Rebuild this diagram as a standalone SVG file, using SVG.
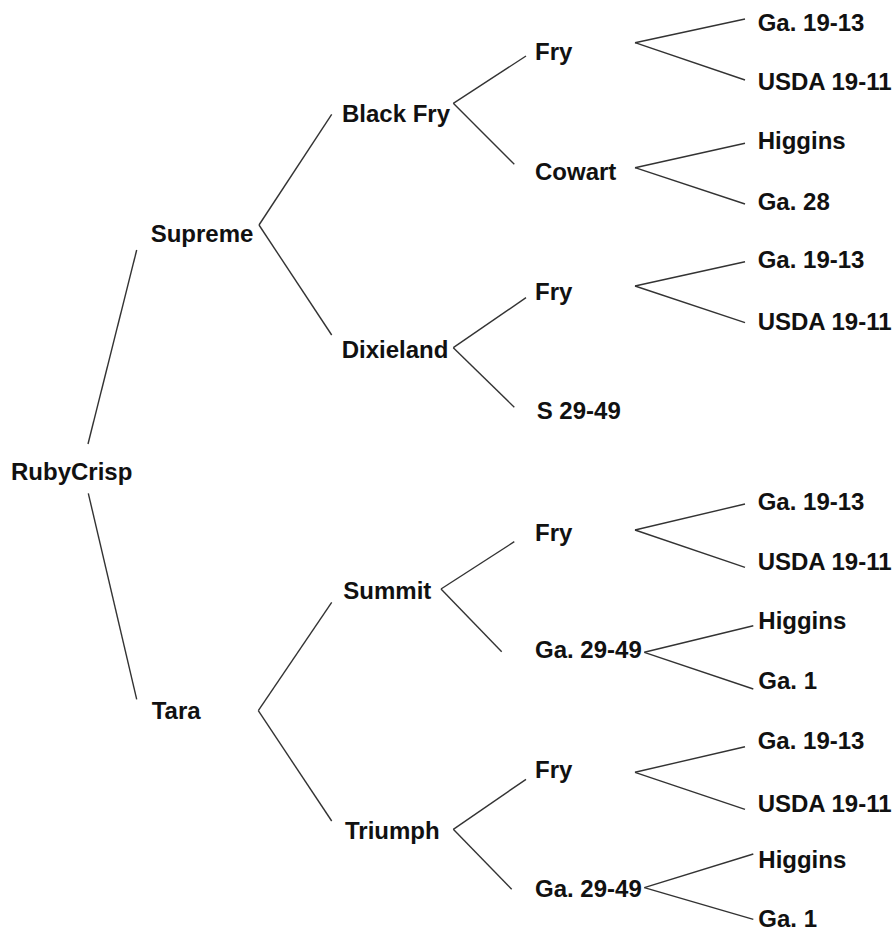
<svg xmlns="http://www.w3.org/2000/svg" width="894" height="930" viewBox="0 0 894 930">
<style>
text{font-family:"Liberation Sans",Arial,sans-serif;font-weight:bold;font-size:24px;fill:#111}
.c line{stroke:#333;stroke-width:1.4;fill:none}
</style>
<rect width="894" height="930" fill="#fff"/>
<g class="c" id="connectors">
<line x1="88" y1="444" x2="136.7" y2="250"/>
<line x1="88.3" y1="493.3" x2="136.7" y2="699.3"/>
<line x1="259" y1="225" x2="331.7" y2="114.3"/>
<line x1="259" y1="225" x2="331.7" y2="335"/>
<line x1="258.3" y1="710.7" x2="331.7" y2="602.3"/>
<line x1="258.3" y1="710.7" x2="331.7" y2="821"/>
<line x1="453.3" y1="103.3" x2="526" y2="56"/>
<line x1="453.3" y1="103.3" x2="514.3" y2="164.3"/>
<line x1="453.3" y1="347.7" x2="526" y2="297.7"/>
<line x1="453.3" y1="347.7" x2="514.3" y2="407.3"/>
<line x1="441" y1="589" x2="514.3" y2="541.7"/>
<line x1="441" y1="589" x2="501.7" y2="651.7"/>
<line x1="453.3" y1="829.3" x2="526" y2="779.3"/>
<line x1="453.3" y1="829.3" x2="511.7" y2="889.3"/>
<line x1="635" y1="42.7" x2="745" y2="19"/>
<line x1="635" y1="42.7" x2="745" y2="80"/>
<line x1="635" y1="167.7" x2="745" y2="143.3"/>
<line x1="635" y1="167.7" x2="745" y2="204"/>
<line x1="635" y1="286" x2="745" y2="261.7"/>
<line x1="635" y1="286" x2="745" y2="322.7"/>
<line x1="635" y1="530" x2="745" y2="504"/>
<line x1="635" y1="530" x2="745" y2="567.3"/>
<line x1="644.3" y1="652.3" x2="753.3" y2="625.7"/>
<line x1="644.3" y1="652.3" x2="753.3" y2="689"/>
<line x1="635" y1="772.3" x2="745" y2="746.7"/>
<line x1="635" y1="772.3" x2="745" y2="809.3"/>
<line x1="644.3" y1="887.7" x2="753.3" y2="854"/>
<line x1="644.3" y1="887.7" x2="753.3" y2="919.3"/>
</g>
<g id="n-rubycrisp"><text x="11" y="479.5">RubyCrisp</text></g>
<g id="n-supreme"><text x="150.7" y="241.7">Supreme</text></g>
<g id="n-tara"><text x="151.7" y="719.3">Tara</text></g>
<g id="n-blackfry"><text x="342" y="121.7">Black Fry</text></g>
<g id="n-dixieland"><text x="341.7" y="358.3">Dixieland</text></g>
<g id="n-summit"><text x="343.3" y="599.3">Summit</text></g>
<g id="n-triumph"><text x="345" y="839.3">Triumph</text></g>
<g id="n-fry1"><text x="535" y="60">Fry</text></g>
<g id="n-cowart"><text x="535" y="180">Cowart</text></g>
<g id="n-fry2"><text x="535" y="300">Fry</text></g>
<g id="n-s2949"><text x="536.7" y="419.3">S 29-49</text></g>
<g id="n-fry3"><text x="535" y="540.7">Fry</text></g>
<g id="n-ga2949a"><text x="535" y="658.3">Ga. 29-49</text></g>
<g id="n-fry4"><text x="535" y="778.3">Fry</text></g>
<g id="n-ga2949b"><text x="535" y="897.3">Ga. 29-49</text></g>
<g id="n-l1"><text x="757.7" y="30.7">Ga. 19-13</text></g>
<g id="n-l2"><text x="757.7" y="90">USDA 19-11</text></g>
<g id="n-l3"><text x="757.7" y="149.3">Higgins</text></g>
<g id="n-l4"><text x="757.7" y="210">Ga. 28</text></g>
<g id="n-l5"><text x="757.7" y="268.3">Ga. 19-13</text></g>
<g id="n-l6"><text x="757.7" y="330">USDA 19-11</text></g>
<g id="n-l7"><text x="757.7" y="510">Ga. 19-13</text></g>
<g id="n-l8"><text x="757.7" y="570">USDA 19-11</text></g>
<g id="n-l9"><text x="758.3" y="629.3">Higgins</text></g>
<g id="n-l10"><text x="758.3" y="689.3">Ga. 1</text></g>
<g id="n-l11"><text x="757.7" y="749.3">Ga. 19-13</text></g>
<g id="n-l12"><text x="757.7" y="811.7">USDA 19-11</text></g>
<g id="n-l13"><text x="758.3" y="868.3">Higgins</text></g>
<g id="n-l14"><text x="758.3" y="926.7">Ga. 1</text></g>
</svg>
